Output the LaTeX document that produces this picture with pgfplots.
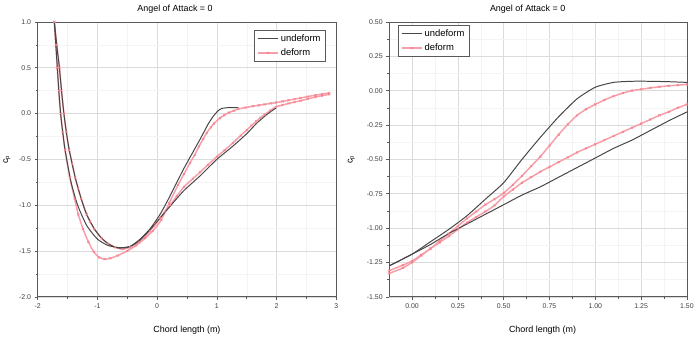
\documentclass[border=0pt]{standalone}
\usepackage{fontspec}
\setmainfont{Liberation Sans}
\usepackage{pgfplots}
\pgfplotsset{compat=1.18}
\definecolor{pinkc}{RGB}{246,158,170}
\definecolor{blk}{RGB}{70,70,70}
\definecolor{frame}{RGB}{90,90,90}
\begin{document}
\begin{tikzpicture}
\path (0bp,0bp) rectangle (697bp,339bp);
\pgfplotsset{
 myax/.style={
  scale only axis, height=276bp,
  axis line style={frame, line width=0.6pt},
  tick align=outside, tick pos=left,
  major tick length=3bp, minor tick length=2bp,
  tick style={frame, line width=0.5pt},
  grid=both, major grid style={gray!28, line width=0.5pt}, minor grid style={gray!9, line width=0.4pt},
  ticklabel style={font=\fontsize{7}{8}\selectfont, text=black!75},
  xlabel style={font=\fontsize{9}{10}\selectfont},
  ylabel style={font=\fontsize{9}{10}\selectfont},
  title style={font=\fontsize{9}{10}\selectfont},
  every axis title shift=0pt,
  /pgf/number format/assume math mode=true,
  legend style={font=\fontsize{9.5}{10}\selectfont, draw=frame, line width=0.5pt, inner sep=2.5pt, row sep=2pt},
  legend cell align=left,
  legend image post style={xscale=1.2},
 },
 und/.style={blk, line width=1pt, smooth, tension=0.35},
 def/.style={pinkc, line width=1.5pt, mark=x, mark size=1.5pt, smooth, tension=0.35, mark options={line width=0.5pt, draw=pinkc!80!red}},
}
% ---------------- left axis ----------------
\begin{axis}[myax, at={(37bp,41bp)}, anchor=south west, width=300bp,
  xmin=-2, xmax=3, ymin=-2, ymax=1,
  xtick={-2,-1,0,1,2,3}, minor x tick num=1,
  ytick={-2,-1.5,-1,-0.5,0,0.5,1}, minor y tick num=1,
  yticklabel style={/pgf/number format/.cd, fixed, fixed zerofill, precision=1},
  xlabel={Chord length (m)}, ylabel={c\textsubscript{p}},
  xlabel style={at={(axis description cs:0.5,-0.12)}, anchor=center},
  ylabel style={at={(axis description cs:-0.103,0.5)}, anchor=center},
  title={Angel of Attack = 0},
  title style={at={(axis description cs:0.46,1.045)}, anchor=center},
  legend style={at={(0.963,0.971)}, anchor=north east},
]
\addplot[def, forget plot] coordinates {(-1.72,1.0) (-1.695,0.75) (-1.67,0.5) (-1.645,0.25) (-1.615,0.0) (-1.58,-0.2) (-1.54,-0.4) (-1.46,-0.7) (-1.38,-0.93) (-1.32,-1.1) (-1.24,-1.26) (-1.15,-1.4) (-1.06,-1.51) (-0.97,-1.57) (-0.88,-1.59) (-0.78,-1.58) (-0.66,-1.55) (-0.5,-1.5) (-0.35,-1.44) (-0.2,-1.36) (-0.07,-1.28) (0.07,-1.16) (0.2,-0.98) (0.35,-0.78) (0.45,-0.66) (0.55,-0.54) (0.63,-0.45) (0.7,-0.36) (0.77,-0.28) (0.83,-0.21) (0.9,-0.15) (0.95,-0.11) (1.05,-0.05) (1.12,-0.02) (1.2,0.01) (1.28,0.03) (1.36,0.05) (1.48,0.065) (1.6,0.08) (1.7,0.09) (1.8,0.1) (1.9,0.11) (1.99,0.12) (2.1,0.133) (2.2,0.145) (2.3,0.157) (2.4,0.17) (2.52,0.185) (2.65,0.2) (2.76,0.212) (2.88,0.225)};
\addplot[def, forget plot] coordinates {(-1.72,1.0) (-1.68,0.75) (-1.635,0.5) (-1.60,0.25) (-1.56,0.0) (-1.52,-0.2) (-1.47,-0.4) (-1.42,-0.55) (-1.37,-0.7) (-1.32,-0.82) (-1.27,-0.93) (-1.18,-1.1) (-1.12,-1.18) (-1.05,-1.26) (-0.93,-1.36) (-0.82,-1.42) (-0.7,-1.46) (-0.58,-1.48) (-0.45,-1.46) (-0.3,-1.4) (-0.2,-1.35) (-0.12,-1.28) (-0.03,-1.21) (0.05,-1.14) (0.13,-1.07) (0.22,-1.0) (0.33,-0.9) (0.45,-0.8) (0.6,-0.71) (0.72,-0.64) (0.85,-0.56) (1.0,-0.47) (1.13,-0.4) (1.27,-0.32) (1.4,-0.24) (1.5,-0.18) (1.58,-0.13) (1.66,-0.085) (1.73,-0.045) (1.8,-0.01) (1.9,0.035) (1.99,0.075) (2.1,0.093) (2.2,0.11) (2.3,0.125) (2.4,0.14) (2.52,0.16) (2.65,0.18) (2.76,0.195) (2.88,0.21)};
\addplot[und] coordinates {(-1.72,1.0) (-1.68,0.75) (-1.635,0.5) (-1.60,0.25) (-1.56,0.0) (-1.52,-0.2) (-1.47,-0.4) (-1.37,-0.7) (-1.27,-0.93) (-1.18,-1.1) (-1.05,-1.26) (-0.93,-1.36) (-0.82,-1.42) (-0.7,-1.46) (-0.58,-1.47) (-0.45,-1.45) (-0.3,-1.38) (-0.12,-1.26) (0.05,-1.1) (0.2,-0.92) (0.44,-0.61) (0.6,-0.42) (0.72,-0.28) (0.85,-0.12) (0.94,-0.03) (1.02,0.03) (1.08,0.055) (1.2,0.065) (1.36,0.065)};
\addlegendentry{undeform}
\addplot[und, forget plot] coordinates {(-1.72,1.0) (-1.695,0.75) (-1.67,0.5) (-1.645,0.25) (-1.615,0.0) (-1.58,-0.2) (-1.54,-0.4) (-1.44,-0.75) (-1.33,-1.0) (-1.18,-1.22) (-1.0,-1.37) (-0.82,-1.44) (-0.62,-1.465) (-0.45,-1.45) (-0.3,-1.39) (-0.12,-1.27) (0.05,-1.14) (0.22,-1.01) (0.45,-0.84) (0.72,-0.68) (1.0,-0.5) (1.27,-0.355) (1.5,-0.22) (1.66,-0.11) (1.8,-0.03) (1.9,0.02) (1.99,0.06)};
\addlegendimage{def}
\addlegendentry{deform}
\end{axis}
% ---------------- right axis ----------------
\begin{axis}[myax, at={(390bp,41bp)}, anchor=south west, width=299bp,
  xmin=-0.125, xmax=1.5, ymin=-1.5, ymax=0.5,
  xtick={0,0.25,0.5,0.75,1,1.25,1.5}, minor x tick num=1,
  ytick={-1.5,-1.25,-1,-0.75,-0.5,-0.25,0,0.25,0.5}, minor y tick num=1,
  xticklabel style={/pgf/number format/.cd, fixed, fixed zerofill, precision=2},
  yticklabel style={/pgf/number format/.cd, fixed, fixed zerofill, precision=2},
  xlabel={Chord length (m)}, ylabel={c\textsubscript{p}},
  xlabel style={at={(axis description cs:0.515,-0.12)}, anchor=center},
  ylabel style={at={(axis description cs:-0.127,0.5)}, anchor=center},
  title={Angel of Attack = 0},
  title style={at={(axis description cs:0.465,1.045)}, anchor=center},
  legend style={at={(0.03,0.989)}, anchor=north west},
]
\addplot[def, forget plot] coordinates {(-0.125,-1.33) (-0.05,-1.29) (0.0,-1.25) (0.05,-1.2) (0.1,-1.15) (0.15,-1.095) (0.2,-1.04) (0.25,-0.985) (0.3,-0.93) (0.35,-0.88) (0.4,-0.83) (0.45,-0.79) (0.5,-0.745) (0.55,-0.685) (0.6,-0.62) (0.65,-0.55) (0.7,-0.48) (0.75,-0.4) (0.8,-0.32) (0.85,-0.245) (0.9,-0.18) (0.95,-0.135) (1.0,-0.1) (1.05,-0.068) (1.1,-0.04) (1.15,-0.018) (1.2,0.0) (1.25,0.01) (1.3,0.02) (1.35,0.028) (1.4,0.035) (1.45,0.04) (1.5,0.045)};
\addplot[def, forget plot] coordinates {(-0.125,-1.31) (-0.05,-1.27) (0.0,-1.24) (0.05,-1.195) (0.1,-1.15) (0.15,-1.105) (0.2,-1.06) (0.25,-1.01) (0.3,-0.96) (0.35,-0.92) (0.4,-0.88) (0.45,-0.835) (0.5,-0.77) (0.55,-0.72) (0.6,-0.67) (0.65,-0.63) (0.7,-0.59) (0.75,-0.555) (0.8,-0.52) (0.85,-0.485) (0.9,-0.45) (0.95,-0.42) (1.0,-0.39) (1.05,-0.36) (1.1,-0.33) (1.15,-0.3) (1.2,-0.27) (1.25,-0.24) (1.3,-0.21) (1.35,-0.18) (1.4,-0.155) (1.45,-0.125) (1.5,-0.1)};
\addplot[und] coordinates {(-0.125,-1.275) (0.0,-1.19) (0.1,-1.1) (0.2,-1.01) (0.3,-0.91) (0.4,-0.79) (0.5,-0.67) (0.6,-0.5) (0.7,-0.34) (0.8,-0.19) (0.9,-0.06) (1.0,0.025) (1.1,0.06) (1.2,0.068) (1.3,0.068) (1.4,0.065) (1.5,0.06)};
\addlegendentry{undeform}
\addplot[und, forget plot] coordinates {(-0.125,-1.275) (0.0,-1.19) (0.1,-1.12) (0.2,-1.04) (0.3,-0.97) (0.4,-0.9) (0.5,-0.83) (0.6,-0.76) (0.7,-0.7) (0.8,-0.63) (0.9,-0.56) (1.0,-0.49) (1.1,-0.42) (1.2,-0.36) (1.3,-0.29) (1.4,-0.22) (1.5,-0.155)};
\addlegendimage{def}
\addlegendentry{deform}
\end{axis}
\end{tikzpicture}
\end{document}
